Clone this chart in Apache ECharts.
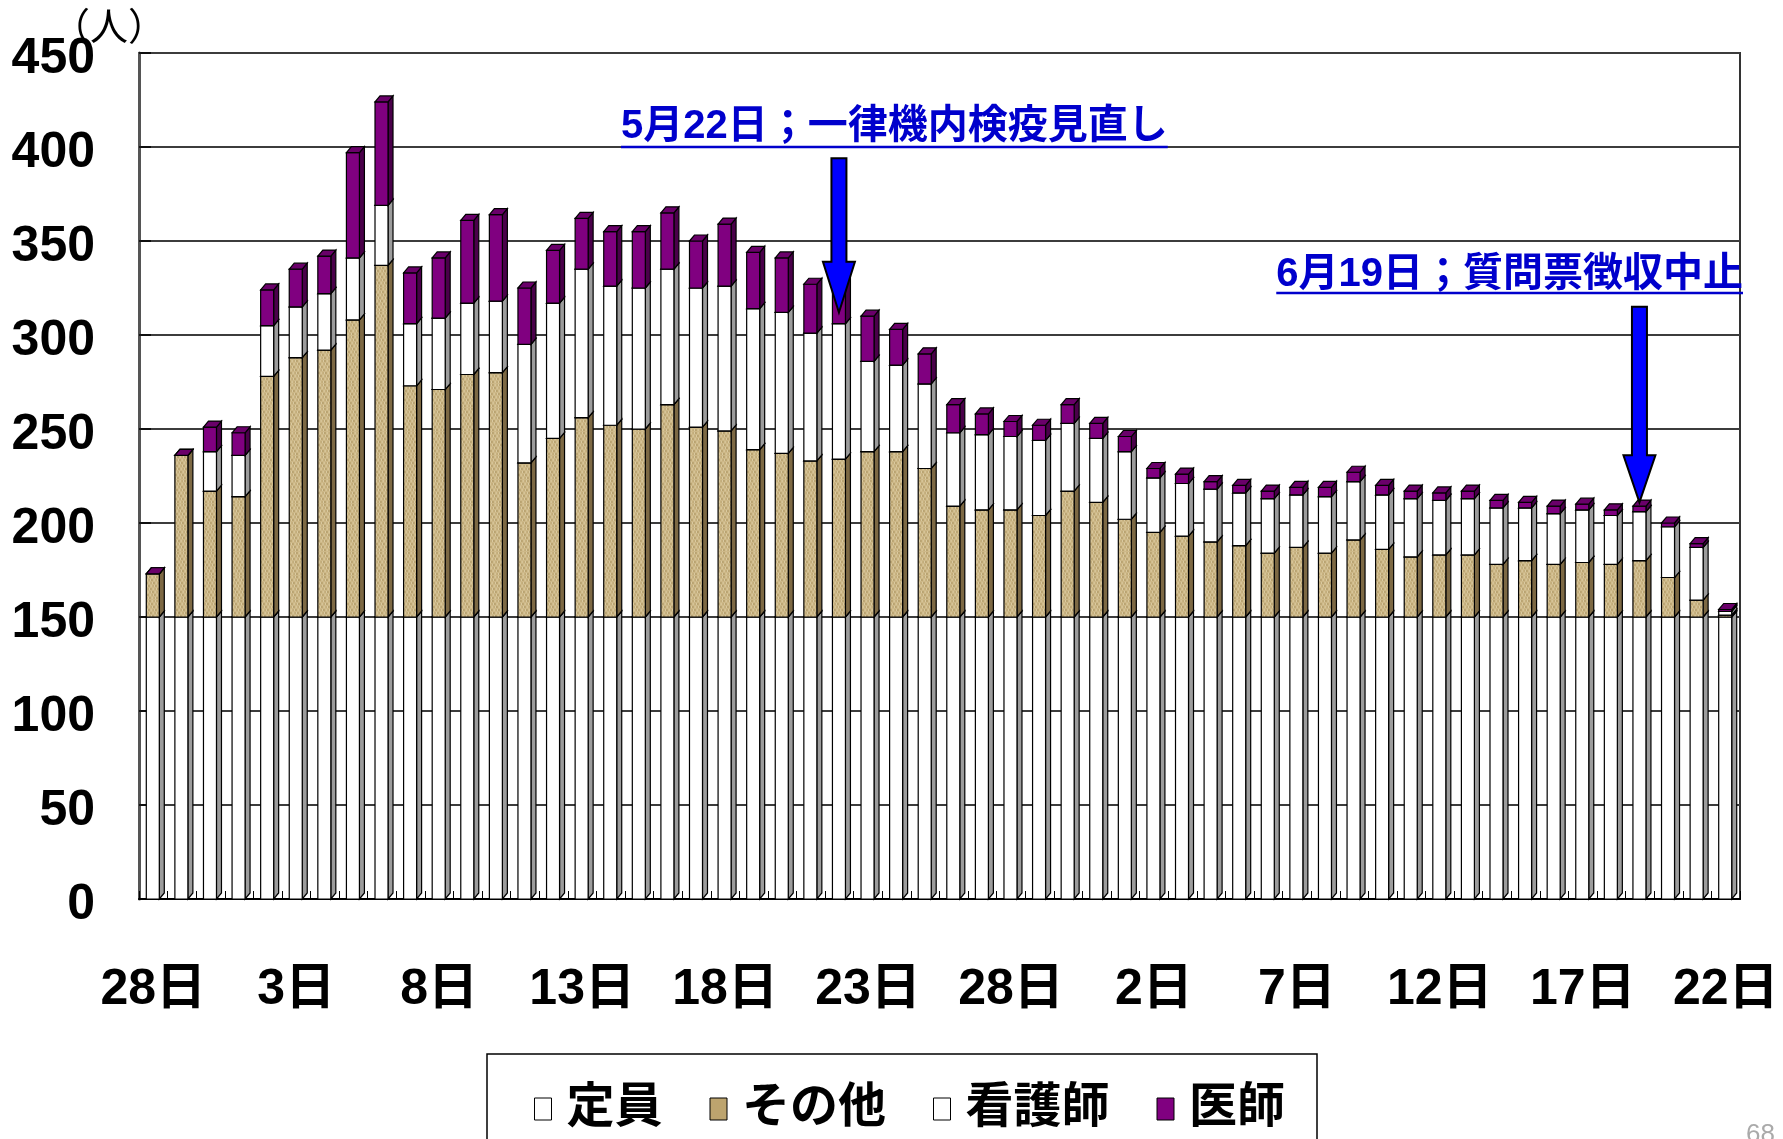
<!DOCTYPE html>
<html>
<head>
<meta charset="utf-8">
<script src="https://cdn.jsdelivr.net/npm/echarts@6/dist/echarts.min.js"></script>
<style>
html,body{margin:0;padding:0;background:#fff;}
#c{width:1783px;height:1139px;}
</style>
</head>
<body>
<div id="c"></div>
<script>
// Categories: 4/28 .. 6/22
const days = ['28日','29日','30日',
  '1日','2日','3日','4日','5日','6日','7日','8日','9日','10日','11日','12日','13日','14日','15日','16日','17日','18日','19日','20日','21日','22日','23日','24日','25日','26日','27日','28日','29日','30日','31日',
  '1日','2日','3日','4日','5日','6日','7日','8日','9日','10日','11日','12日','13日','14日','15日','16日','17日','18日','19日','20日','21日','22日'];

const seriesNames = ['定員','その他','看護師','医師'];

const teiin = [150,150,150,150,150,150,150,150,150,150,150,150,150,150,150,150,150,150,150,150,150,150,150,150,150,150,150,150,150,150,150,150,150,150,150,150,150,150,150,150,150,150,150,150,150,150,150,150,150,150,150,150,150,150,150,150];
const sonota = [23,86,67,64,128,138,142,158,187,123,121,129,130,82,95,106,102,100,113,101,99,89,87,83,84,88,88,79,59,57,57,54,67,61,52,45,43,40,38,34,37,34,41,36,32,33,33,28,30,28,29,28,30,21,9,1];
const kangoshi = [0,0,21,22,27,27,30,33,32,33,38,38,38,63,72,79,74,75,72,74,77,75,75,68,72,48,46,45,39,40,39,40,36,34,36,29,28,28,28,29,28,30,31,29,31,29,30,30,28,27,28,26,26,27,28,2];
const ishi = [0,0,13,12,19,20,20,56,55,27,32,44,46,30,28,27,29,30,30,25,33,30,29,26,25,24,19,16,15,11,8,8,10,8,8,5,5,4,4,4,4,5,5,5,4,4,4,4,3,4,3,3,3,2,2,1];

const yTicks = {min:0, max:450, interval:50};

// annotations
const note1 = {text:'5月22日；一律機内検疫見直し', index:24, tipValue:312, headValue:339, topValue:394};
const note2 = {text:'6月19日；質問票徴収中止', index:52, tipValue:211, headValue:236, topValue:315};

// ---- font detection for the narrow bold tick labels ----
const mc = document.createElement('canvas').getContext('2d');
function mw(font, s){ mc.font = 'bold 10px serif'; mc.font = font; return mc.measureText(s).width; }
let LBL = {family:'"Liberation Sans","Noto Sans CJK JP",sans-serif', style:'normal', size:50};
(function(){
  const s = '4502';
  const narrowA = mw('bold 56px "Liberation Sans Narrow", monospace', s);
  const narrowB = mw('bold 56px monospace', s);
  if (Math.abs(narrowA - narrowB) > 1 && narrowA < mw('bold 56px "Liberation Sans"', s) - 5) {
    LBL = {family:'"Liberation Sans Narrow","Noto Sans CJK JP",sans-serif', style:'normal', size:56};
    return;
  }
  const nc = mw('condensed bold 56px "Noto Sans"', s);
  const nn = mw('bold 56px "Noto Sans"', s);
  if (nc < nn - 8) {
    LBL = {family:'"Noto Sans","Noto Sans CJK JP",sans-serif', style:'condensed', size:56};
  }
})();

// tan texture pattern
function tanPattern(){
  const c = document.createElement('canvas');
  c.width = 14; c.height = 24;
  const g = c.getContext('2d');
  g.fillStyle = '#cdb888'; g.fillRect(0,0,14,24);
  const shades = ['#b8a06e','#e0d0a8','#ad955f','#e8dbb8','#c2aa76','#d6c294','#a68d5c'];
  for (let x=0;x<14;x++){
    for (let y=0;y<24;y+=3){
      g.fillStyle = shades[(x*3 + y*5) % shades.length];
      g.globalAlpha = 0.5;
      g.fillRect(x, y, 1, 2);
    }
  }
  g.globalAlpha = 1;
  return {image:c, repeat:'repeat'};
}
const TAN = tanPattern();

const stacks = [teiin, sonota, kangoshi, ishi];
const styles = [
  {front:'#ffffff', side:'#9c9c9c', top:'#ffffff'},
  {front:TAN, side:'#7d6944', top:'#dccca4'},
  {front:'#ffffff', side:'#9c9c9c', top:'#ffffff'},
  {front:'#800080', side:'#4a004a', top:'#6a006a'}
];

function make3D(k){
  const st = styles[k];
  return {
    type:'custom', name:seriesNames[k], z: 2+k,
    data: stacks[k].map((v,i)=>[i,v]),
    encode:{x:0,y:1},
    renderItem:function(params, api){
      const i = api.value(0);
      const v = api.value(1);
      let base = 0;
      for (let j=0;j<k;j++) base += stacks[j][i];
      const cx = api.coord([i,0])[0];
      const yb = api.coord([i,base])[1];
      const yt = api.coord([i,base+v])[1];
      const x0 = cx-7, x1 = cx+6, dx = 5, dy = 6;
      const line = {stroke:'#000', lineWidth:1.2};
      return {type:'group', children:[
        {type:'polygon', shape:{points:[[x1,yt],[x1+dx,yt-dy],[x1+dx,yb-dy],[x1,yb]]}, style:Object.assign({fill:st.side}, line)},
        {type:'polygon', shape:{points:[[x0,yt],[x1,yt],[x1,yb],[x0,yb]]}, style:Object.assign({fill:st.front}, line)},
        {type:'polygon', shape:{points:[[x0,yt],[x0+dx,yt-dy],[x1+dx,yt-dy],[x1,yt]]}, style:Object.assign({fill:st.top}, line)}
      ]};
    }
  };
}

const CJK_FONT = '"Liberation Sans","Noto Sans CJK JP",sans-serif';

const chart = echarts.init(document.getElementById('c'), null, {renderer:'canvas'});
chart.setOption({
  animation:false,
  backgroundColor:'#ffffff',
  grid:{left:139, right:43, top:53, bottom:240, show:true, borderColor:'#333', borderWidth:2, backgroundColor:'transparent', containLabel:false, outerBoundsMode:'none'},
  legend:{
    left:487, top:1054,
    orient:'horizontal',
    itemWidth:17, itemHeight:22, itemGap:47,
    padding:[27,32,27,47],
    borderColor:'#000', borderWidth:1.5,
    textStyle:{fontSize:48, fontWeight:'bold', color:'#000', fontFamily:CJK_FONT, lineHeight:56, padding:[0,0,0,10]},
    data:[
      {name:'定員', icon:'rect', itemStyle:{color:'#fff', borderColor:'#000', borderWidth:1}},
      {name:'その他', icon:'rect', itemStyle:{color:'#bda46e', borderColor:'#000', borderWidth:1}},
      {name:'看護師', icon:'rect', itemStyle:{color:'#fff', borderColor:'#000', borderWidth:1}},
      {name:'医師', icon:'rect', itemStyle:{color:'#800080', borderColor:'#000', borderWidth:1}}
    ]
  },
  xAxis:{
    type:'category', data:days, boundaryGap:true,
    axisLine:{lineStyle:{color:'#000', width:2}},
    axisTick:{show:true, inside:true, length:8, interval:0, lineStyle:{color:'#000'}},
    axisLabel:{interval:4, margin:66, fontSize:LBL.size, fontWeight:'bold', fontStyle:LBL.style, color:'#000', fontFamily:LBL.family},
    splitLine:{show:false}
  },
  yAxis:{
    type:'value', min:yTicks.min, max:yTicks.max, interval:yTicks.interval,
    axisLine:{show:true, lineStyle:{color:'#555', width:3}},
    axisTick:{show:true, inside:true, length:12, lineStyle:{color:'#000', width:1.5}},
    axisLabel:{margin:44, fontSize:LBL.size, fontWeight:'bold', fontStyle:LBL.style, color:'#000', fontFamily:LBL.family, verticalAlign:'top', lineHeight:12},
    splitLine:{show:true, lineStyle:{color:'#3c3c3c', width:2}}
  },
  series:[make3D(0), make3D(1), make3D(2), make3D(3)]
});

// annotations (arrow positions from data coordinates)
const ANN_SIZE = 40;
mc.font = 'bold ' + ANN_SIZE + 'px ' + CJK_FONT;
const w1 = mc.measureText(note1.text).width;
const w2 = mc.measureText(note2.text).width;
function arrow(note){
  const tip = chart.convertToPixel({xAxisIndex:0, yAxisIndex:0}, [note.index, note.tipValue]);
  const head = chart.convertToPixel({yAxisIndex:0}, note.headValue);
  const top = chart.convertToPixel({yAxisIndex:0}, note.topValue);
  const tx = tip[0] - 0.5, ty = tip[1];
  return {type:'polygon', z:100, shape:{points:[[tx-7.5,top],[tx+7.5,top],[tx+7.5,head],[tx+16,head],[tx,ty],[tx-16,head],[tx-7.5,head]]},
    style:{fill:'#0000ff', stroke:'#000', lineWidth:2}};
}
const ann1Left = 621, ann1Y = 127;
const ann2Right = 1743, ann2Y = 275;
chart.setOption({
  graphic:[
    {type:'text', left:52, top:11, z:100, style:{text:'（人）', fontSize:38, fill:'#000', fontFamily:CJK_FONT}},
    {type:'text', x:ann1Left, y:ann1Y, z:100, style:{text:note1.text, fontSize:ANN_SIZE, fontWeight:'bold', fill:'#0000cc', fontFamily:CJK_FONT, verticalAlign:'middle', align:'left'}},
    {type:'line', z:100, shape:{x1:ann1Left, y1:ann1Y+20, x2:ann1Left+w1, y2:ann1Y+20}, style:{stroke:'#0000cc', lineWidth:2.5}},
    {type:'text', x:ann2Right, y:ann2Y, z:100, style:{text:note2.text, fontSize:ANN_SIZE, fontWeight:'bold', fill:'#0000cc', fontFamily:CJK_FONT, verticalAlign:'middle', align:'right'}},
    {type:'line', z:100, shape:{x1:ann2Right-w2, y1:ann2Y+18, x2:ann2Right, y2:ann2Y+18}, style:{stroke:'#0000cc', lineWidth:2.5}},
    arrow(note1),
    arrow(note2),
    {type:'text', x:1746, y:1122, z:100, style:{text:'68', fontSize:26, fill:'#aaaaaa', fontFamily:CJK_FONT}}
  ]
});
</script>
</body>
</html>
